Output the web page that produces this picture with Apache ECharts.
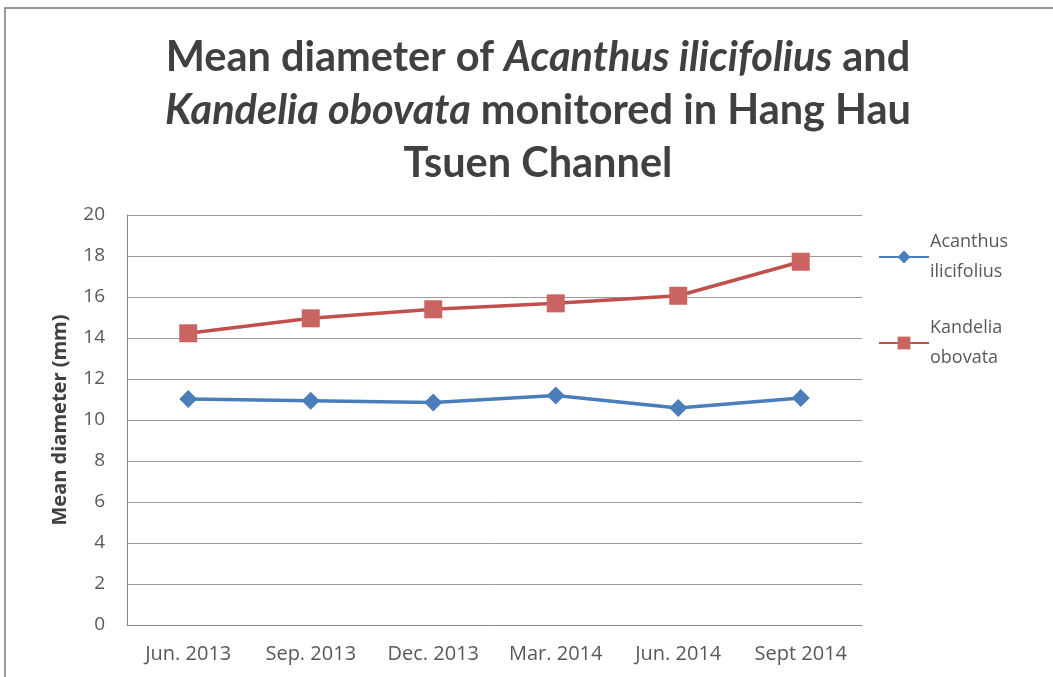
<!DOCTYPE html>
<html>
<head>
<meta charset="utf-8">
<script src="https://cdn.jsdelivr.net/npm/echarts@6/dist/echarts.min.js"></script>
<style>html,body{margin:0;padding:0;background:#fff}#c{width:1053px;height:677px}</style>
</head>
<body>
<div id="c"></div>
<script>
const categories = ['Jun. 2013', 'Sep. 2013', 'Dec. 2013', 'Mar. 2014', 'Jun. 2014', 'Sept 2014'];
const acanthus = [11.02, 10.94, 10.85, 11.19, 10.59, 11.07];
const kandelia = [14.23, 14.96, 15.40, 15.69, 16.06, 17.72];
const seriesNames = ['Acanthus ilicifolius', 'Kandelia obovata'];
const yTicks = [0, 20, 2];

const chart = echarts.init(document.getElementById('c'));
const FONT = 'Lato';
chart.setOption({
  backgroundColor: '#fff',
  animation: false,
  graphic: [{
    type: 'polyline',
    shape: { points: [[5, 677], [5, 8], [1053, 8]] },
    style: { stroke: '#777', lineWidth: 1.5, fill: null }
  }, {
    type: 'text', x: 538, y: 31,
    style: {
      text: 'Mean diameter of {i|Acanthus ilicifolius} and\n{i|Kandelia obovata} monitored in Hang Hau\nTsuen Channel',
      align: 'center', verticalAlign: 'top',
      fontFamily: FONT, fontSize: 41.5, fontWeight: 'bold', fill: '#404040', lineHeight: 53,
      rich: { i: { fontFamily: FONT, fontSize: 41.5, fontWeight: 'bold', fontStyle: 'italic', fill: '#404040', lineHeight: 53 } }
    }
  }],
  legend: {
    orient: 'vertical', left: 873, top: 222, itemGap: 26,
    itemWidth: 50, itemHeight: 16,
    formatter: n => n.replace(' ', '\n'),
    textStyle: { fontFamily: 'Open Sans', fontSize: 18, color: '#595959', lineHeight: 30, padding: [0, 0, 0, -4] },
    data: seriesNames
  },
  grid: { left: 127, right: 191, top: 215, bottom: 52 },
  xAxis: {
    type: 'category', data: categories, boundaryGap: true,
    axisLine: { lineStyle: { color: '#888', width: 1 } },
    axisTick: { show: false },
    axisLabel: { fontFamily: 'Open Sans', fontSize: 20, color: '#595959', margin: 19 }
  },
  yAxis: {
    type: 'value', min: yTicks[0], max: yTicks[1], interval: yTicks[2],
    name: 'Mean diameter (mm)', nameLocation: 'middle', nameGap: 57, nameRotate: 90,
    nameTextStyle: { fontFamily: 'Open Sans', fontSize: 20, fontWeight: 'bold', color: '#404040' },
    axisLine: { show: true, lineStyle: { color: '#888', width: 1 } },
    axisTick: { show: false },
    splitLine: { lineStyle: { color: '#9a9a9a', width: 1 } },
    axisLabel: { fontFamily: 'Open Sans', fontSize: 19, color: '#595959', margin: 22 }
  },
  series: [
    {
      name: seriesNames[0], type: 'line', data: acanthus,
      symbol: 'diamond', symbolSize: 18,
      lineStyle: { color: '#4a7ebb', width: 3.5 },
      itemStyle: { color: '#4a7ebb' }
    },
    {
      name: seriesNames[1], type: 'line', data: kandelia,
      symbol: 'rect', symbolSize: 18,
      lineStyle: { color: '#c0504d', width: 3.5 },
      itemStyle: { color: '#c96461' }
    }
  ]
});
</script>
</body>
</html>
